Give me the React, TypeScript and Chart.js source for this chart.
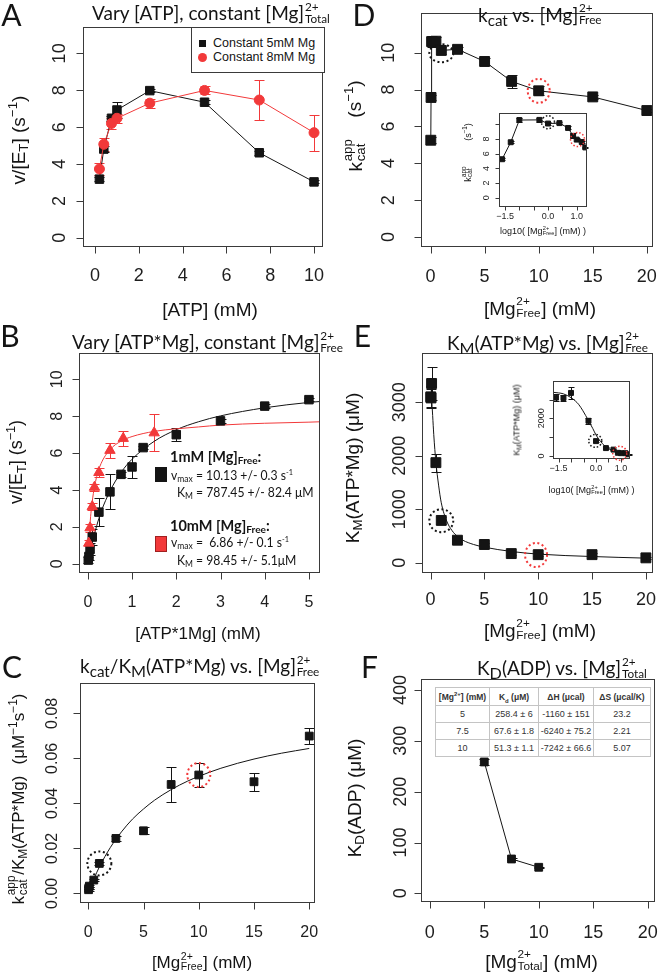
import React, { useEffect, useRef } from 'react';
import { Chart, registerables } from 'chart.js';
Chart.register(...registerables);

// ---------------- data ----------------
// Panel A: vary [ATP], constant total Mg
const aAtpMM = [0.2, 0.4, 0.75, 1, 2.5, 5, 7.5, 10];
const aRate5mM = [3.18, 4.81, 6.48, 6.93, 7.98, 7.35, 4.61, 3.03];
const aErr5mM = [0.12, 0.15, 0.15, 0.45, 0.1, 0.1, 0.1, 0.08];
const aRate8mM = [3.73, 5.07, 6.2, 6.48, 7.3, 7.99, 7.47, 5.7];
const aErr8mM = [0.35, 0.35, 0.3, 0.25, 0.25, 0.22, 1.1, 0.98];

// Panel B: vary [ATP*Mg], constant free Mg
const bAtpMg1 = [0.01, 0.025, 0.05, 0.1, 0.25, 0.5, 0.75, 1, 1.25, 2, 3, 4, 5];
const bRate1 = [0.2, 0.4, 0.8, 1.45, 2.8, 3.9, 4.85, 5.25, 6.3, 7.0, 7.75, 8.55, 8.9];
const bErr1 = [0.15, 0.2, 0.3, 0.45, 0.75, 0.95, 0.15, 0.6, 0.1, 0.35, 0.1, 0.1, 0.1];
const bAtpMg10 = [0.02, 0.05, 0.1, 0.15, 0.25, 0.5, 0.8, 1.5];
const bRate10 = [1.12, 1.95, 3.1, 4.15, 4.95, 6.15, 6.8, 7.1];
const bErr10 = [0.15, 0.2, 0.2, 0.2, 0.25, 0.4, 0.4, 1.0];
const bFitAtpMg = [0, 0.05, 0.1, 0.2, 0.3, 0.5, 0.75, 1, 1.5, 2, 2.5, 3, 4, 5, 5.25];
const bFit1 = [0, 0.6, 1.14, 2.06, 2.82, 3.94, 4.95, 5.67, 6.64, 7.27, 7.7, 8.02, 8.46, 8.75, 8.8];
const bFit10 = [0, 2.17, 3.39, 4.73, 5.44, 6.19, 6.65, 6.9, 7.18, 7.32, 7.42, 7.52, 7.62, 7.68, 7.7];

// Panels C, D, E: free Mg series
const mgFreeMM = [0.025, 0.05, 0.1, 0.5, 1, 2.5, 5, 7.5, 10, 15, 20];
const kcatApp = [5.25, 7.57, 10.6, 10.62, 10.12, 10.18, 9.52, 8.44, 7.93, 7.6, 6.86];
const kcatErr = [0.15, 0.15, 0.3, 0.25, 0.2, 0.1, 0.2, 0.35, 0.25, 0.12, 0.1];
const kmAtpMg = [3100, 3080, 3350, 1870, 790, 420, 340, 170, 150, 150, 90];
const kmErr = [200, 170, 300, 170, 60, 40, 35, 30, 25, 25, 20];
const kcatOverKm = [0.0016, 0.0025, 0.0032, 0.0059, 0.0133, 0.0244, 0.0278, 0.0484, 0.0526, 0.0496, 0.0699];
const kcatOverKmErr = [0.0004, 0.0005, 0.0005, 0.0006, 0.0008, 0.0012, 0.0015, 0.0078, 0.0055, 0.0039, 0.0037];
const cFitMg = [0, 0.5, 1, 2, 3, 4, 5, 6, 7.5, 9, 10, 12, 15, 17.5, 20];
const cFit = [0, 0.0063, 0.0117, 0.0204, 0.0273, 0.033, 0.0375, 0.0414, 0.0461, 0.0499, 0.052, 0.0556, 0.0597, 0.0623, 0.0644];
const eFitMg = [0, 0.02, 0.05, 0.1, 0.15, 0.2, 0.3, 0.5, 0.75, 1, 1.5, 2, 2.5, 3, 4, 5, 7.5, 10, 15, 20];
const eFitKm = [3450, 3380, 3300, 3100, 2920, 2750, 2400, 1880, 1450, 1120, 780, 600, 490, 420, 340, 290, 210, 160, 115, 85];

// Panel F
const fMgTotal = [5, 7.5, 10];
const fKdADP = [258.4, 67.6, 51.3];
const fKdErr = [6, 1.8, 1.1];
const tableRows = [
  ['5', '258.4 ± 6', '-1160 ± 151', '23.2'],
  ['7.5', '67.6 ± 1.8', '-6240 ± 75.2', '2.21'],
  ['10', '51.3 ± 1.1', '-7242 ± 66.6', '5.07'],
];

// ticks
const t0to10 = [0, 2, 4, 6, 8, 10];
const t0to5 = [0, 1, 2, 3, 4, 5];
const t0to20 = [0, 5, 10, 15, 20];
const tC = [0, 0.02, 0.04, 0.06, 0.08];
const tCLab = ['0.00', '0.02', '0.04', '0.06', '0.08'];
const tE = [0, 1000, 2000, 3000];
const tF = [0, 100, 200, 300, 400];
const tLog = [-1.5, -1, -0.5, 0, 0.5, 1];
const tLogLab = ['\u22121.5', '', '', '0.0', '', '1.0'];
const tInsetD = [0, 2, 4, 6, 8, 10];
const tInsetDLab = ['0', '2', '4', '6', '8', ''];
const tInsetELab = ['0', '', '2000', ''];

// ---------------- styling ----------------
const BLK = '#141414';
const RED = '#f2393a';
const SANS = '"Liberation Sans", Arial, Helvetica, sans-serif';
const HUM = 'Lato, "Open Sans", sans-serif';

const pts = (xs: number[], ys: number[]) => xs.map((x, i) => ({ x, y: ys[i] }));
const logPts = (xs: number[], ys: number[]) =>
  xs.map((x, i) => ({ x, y: ys[i] })).filter(p => p.x > 0).map(p => ({ x: Math.log10(p.x), y: p.y }));

type Ring = { x: number; y: number; rx: number; ry: number; color: string; lw: number };
type PanelCfg = {
  rect: [number, number, number, number];
  box: [number, number, number, number];
  xRange: [number, number];
  yRange: [number, number];
  xTicks: number[]; xLabels: string[];
  yTicks: number[]; yLabels: string[];
  font: number; tickLen: number; xLabOff: number; yLabOff: number; cap: number;
  rings?: Ring[];
  datasets: any[];
};

function rPlugin(cfg: PanelCfg) {
  return {
    id: 'rstyle',
    beforeDatasetsDraw(chart: any) {
      const ctx = chart.ctx;
      const xs = chart.scales.x, ys = chart.scales.y;
      chart.data.datasets.forEach((ds: any) => {
        if (!ds.errors) return;
        ctx.save();
        ctx.strokeStyle = ds.errColor || BLK;
        ctx.lineWidth = 1;
        ctx.beginPath();
        ds.data.forEach((p: any, j: number) => {
          const e = ds.errors[j];
          if (!e) return;
          const px = Math.round(xs.getPixelForValue(p.x)) + 0.5;
          const y1 = Math.round(ys.getPixelForValue(p.y - e)) + 0.5;
          const y2 = Math.round(ys.getPixelForValue(p.y + e)) + 0.5;
          const c = cfg.cap;
          ctx.moveTo(px, y1); ctx.lineTo(px, y2);
          ctx.moveTo(px - c, y1); ctx.lineTo(px + c, y1);
          ctx.moveTo(px - c, y2); ctx.lineTo(px + c, y2);
        });
        ctx.stroke();
        ctx.restore();
      });
    },
    afterDraw(chart: any) {
      const ctx = chart.ctx;
      const { left, top, right, bottom } = chart.chartArea;
      const xs = chart.scales.x, ys = chart.scales.y;
      ctx.save();
      ctx.strokeStyle = '#3a3a3a';
      ctx.lineWidth = 1;
      const L = Math.round(left) + 0.5, T = Math.round(top) + 0.5;
      const R = Math.round(right) - 0.5, B = Math.round(bottom) - 0.5;
      ctx.strokeRect(L, T, R - L, B - T);
      ctx.beginPath();
      cfg.xTicks.forEach(v => {
        const px = Math.round(xs.getPixelForValue(v)) + 0.5;
        ctx.moveTo(px, B); ctx.lineTo(px, B + cfg.tickLen);
      });
      cfg.yTicks.forEach(v => {
        const py = Math.round(ys.getPixelForValue(v)) + 0.5;
        ctx.moveTo(L, py); ctx.lineTo(L - cfg.tickLen, py);
      });
      ctx.stroke();
      ctx.fillStyle = '#1e1e1e';
      ctx.font = `${cfg.font}px ${SANS}`;
      ctx.textAlign = 'center';
      ctx.textBaseline = 'middle';
      cfg.xTicks.forEach((v, i) => {
        const lab = cfg.xLabels[i];
        if (lab) ctx.fillText(lab, xs.getPixelForValue(v), bottom + cfg.xLabOff);
      });
      cfg.yTicks.forEach((v, i) => {
        const lab = cfg.yLabels[i];
        if (!lab) return;
        ctx.save();
        ctx.translate(left - cfg.yLabOff, ys.getPixelForValue(v));
        ctx.rotate(-Math.PI / 2);
        ctx.fillText(lab, 0, 0);
        ctx.restore();
      });
      (cfg.rings || []).forEach(r => {
        ctx.save();
        ctx.strokeStyle = r.color;
        ctx.lineWidth = r.lw;
        ctx.setLineDash([r.lw, r.lw * 1.3]);
        ctx.beginPath();
        ctx.ellipse(xs.getPixelForValue(r.x), ys.getPixelForValue(r.y), r.rx, r.ry, 0, 0, Math.PI * 2);
        ctx.stroke();
        ctx.restore();
      });
      ctx.restore();
    },
  };
}

function Panel({ cfg }: { cfg: PanelCfg }) {
  const ref = useRef<HTMLCanvasElement>(null);
  useEffect(() => {
    const [L, T, W, H] = cfg.rect;
    const [bl, bt, br, bb] = cfg.box;
    const chart = new Chart(ref.current as HTMLCanvasElement, {
      type: 'scatter',
      data: { datasets: cfg.datasets },
      options: {
        responsive: false,
        animation: false,
        devicePixelRatio: 1,
        events: [],
        layout: { padding: { left: bl - L, top: bt - T, right: L + W - br, bottom: T + H - bb } },
        scales: {
          x: { type: 'linear', min: cfg.xRange[0], max: cfg.xRange[1], display: false },
          y: { type: 'linear', min: cfg.yRange[0], max: cfg.yRange[1], display: false },
        },
        plugins: { legend: { display: false }, tooltip: { enabled: false } },
      } as any,
      plugins: [rPlugin(cfg)],
    });
    return () => chart.destroy();
  }, [cfg]);
  const [L, T, W, H] = cfg.rect;
  return <canvas ref={ref} width={W} height={H} style={{ position: 'absolute', left: L, top: T, width: W, height: H }} />;
}

const sq = (r: number) => ({ pointStyle: 'rect', pointRadius: r, pointBackgroundColor: BLK, pointBorderColor: BLK, pointBorderWidth: 1 });
const lineDs = (color: string) => ({ showLine: true, borderColor: color, borderWidth: 1 });
const curve = (data: any[], color: string) => ({
  data, showLine: true, borderColor: color, borderWidth: 1, pointRadius: 0, cubicInterpolationMode: 'monotone',
});

const aCfg: PanelCfg = {
  rect: [0, 0, 330, 320], box: [83, 27, 324, 247],
  xRange: [-0.55, 10.41], yRange: [-0.5, 11.43],
  xTicks: t0to10, xLabels: t0to10.map(String), yTicks: t0to10, yLabels: t0to10.map(String),
  font: 18, tickLen: 7, xLabOff: 29, yLabOff: 23, cap: 5,
  datasets: [
    { data: pts(aAtpMM, aRate8mM), errors: aErr8mM, errColor: RED, ...lineDs(RED), pointStyle: 'circle', pointRadius: 5, pointBackgroundColor: RED, pointBorderColor: RED },
    { data: pts(aAtpMM, aRate5mM), errors: aErr5mM, ...lineDs(BLK), ...sq(6) },
  ],
};

const bCfg: PanelCfg = {
  rect: [0, 320, 330, 330], box: [79, 353, 320, 573],
  xRange: [-0.2, 5.25], yRange: [-0.5, 11.43],
  xTicks: t0to5, xLabels: t0to5.map(String), yTicks: t0to10, yLabels: t0to10.map(String),
  font: 16, tickLen: 7, xLabOff: 30, yLabOff: 21, cap: 5,
  datasets: [
    { data: pts(bAtpMg10, bRate10), errors: bErr10, errColor: RED, pointStyle: 'triangle', pointRadius: 6, pointBackgroundColor: RED, pointBorderColor: RED },
    { data: pts(bAtpMg1, bRate1), errors: bErr1, ...sq(6) },
    curve(pts(bFitAtpMg, bFit10), RED),
    curve(pts(bFitAtpMg, bFit1), BLK),
  ],
};

const cCfg: PanelCfg = {
  rect: [0, 650, 330, 325], box: [80, 683, 315, 903],
  xRange: [-0.75, 20.52], yRange: [-0.0043, 0.0935],
  xTicks: t0to20, xLabels: t0to20.map(String), yTicks: tC, yLabels: tCLab,
  font: 16, tickLen: 7, xLabOff: 30, yLabOff: 27, cap: 5,
  rings: [
    { x: 1, y: 0.0133, rx: 12, ry: 12, color: BLK, lw: 2 },
    { x: 10, y: 0.0526, rx: 11.5, ry: 12, color: RED, lw: 2 },
  ],
  datasets: [
    { data: pts(mgFreeMM, kcatOverKm), errors: kcatOverKmErr, ...sq(5.5) },
    curve(pts(cFitMg, cFit), BLK),
  ],
};

const dCfg: PanelCfg = {
  rect: [330, 0, 331, 320], box: [421, 13, 658, 247],
  xRange: [-0.88, 20.57], yRange: [-0.54, 12.15],
  xTicks: t0to20, xLabels: t0to20.map(String), yTicks: t0to10, yLabels: t0to10.map(String),
  font: 18, tickLen: 7, xLabOff: 30, yLabOff: 32, cap: 5,
  rings: [
    { x: 1, y: 9.97, rx: 12, ry: 9, color: BLK, lw: 2 },
    { x: 10, y: 7.93, rx: 11, ry: 12, color: RED, lw: 2 },
  ],
  datasets: [
    { data: pts(mgFreeMM, kcatApp), errors: kcatErr, ...lineDs(BLK), ...sq(7) },
  ],
};

const dInsetCfg: PanelCfg = {
  rect: [465, 100, 130, 140], box: [499, 113, 587, 207],
  xRange: [-1.71, 1.36], yRange: [-1.27, 11.56],
  xTicks: tLog, xLabels: tLogLab, yTicks: tInsetD, yLabels: tInsetDLab,
  font: 9, tickLen: 4, xLabOff: 10, yLabOff: 12, cap: 3,
  rings: [
    { x: 0, y: 10.3, rx: 6.5, ry: 6.5, color: BLK, lw: 1.5 },
    { x: 1.03, y: 7.95, rx: 7, ry: 7, color: RED, lw: 1.5 },
  ],
  datasets: [
    { data: logPts(mgFreeMM, kcatApp), errors: kcatErr, ...lineDs(BLK), ...sq(3.5) },
  ],
};

const eCfg: PanelCfg = {
  rect: [330, 320, 331, 330], box: [422, 353, 658, 573],
  xRange: [-0.79, 20.66], yRange: [-193, 3920],
  xTicks: t0to20, xLabels: t0to20.map(String), yTicks: tE, yLabels: tE.map(String),
  font: 18, tickLen: 7, xLabOff: 27, yLabOff: 22, cap: 5,
  rings: [
    { x: 1, y: 785, rx: 12, ry: 11.5, color: BLK, lw: 2 },
    { x: 9.8, y: 144, rx: 11, ry: 12, color: RED, lw: 2 },
  ],
  datasets: [
    { data: pts(mgFreeMM, kmAtpMg), errors: kmErr, ...sq(7) },
    curve(pts(eFitMg, eFitKm), BLK),
  ],
};

const eInsetCfg: PanelCfg = {
  rect: [520, 372, 120, 130], box: [553, 381, 630, 459],
  xRange: [-1.72, 1.36], yRange: [-159, 3983],
  xTicks: tLog, xLabels: tLogLab, yTicks: tE, yLabels: tInsetELab,
  font: 9, tickLen: 4, xLabOff: 10, yLabOff: 11, cap: 3,
  rings: [
    { x: -0.03, y: 805, rx: 6.5, ry: 6.5, color: BLK, lw: 1.5 },
    { x: 0.95, y: 145, rx: 7, ry: 7, color: RED, lw: 1.5 },
  ],
  datasets: [
    { data: logPts(mgFreeMM, kmAtpMg), errors: kmErr, ...sq(3.5) },
    curve(logPts(eFitMg, eFitKm), BLK),
  ],
};

const fCfg: PanelCfg = {
  rect: [330, 650, 331, 325], box: [421, 679, 658, 902],
  xRange: [-0.81, 20.63], yRange: [-17, 421.6],
  xTicks: t0to20, xLabels: t0to20.map(String), yTicks: tF, yLabels: tF.map(String),
  font: 18, tickLen: 7, xLabOff: 31, yLabOff: 20, cap: 5,
  datasets: [
    { data: pts(fMgTotal, fKdADP), errors: fKdErr, ...lineDs(BLK), ...sq(5.5) },
  ],
};

// ---------------- text helpers ----------------
function Txt(props: { x: number; y: number; size: number; family?: string; left?: boolean; rot?: boolean; weight?: number; color?: string; sx?: number; children: any }) {
  const { x, y, size, family = SANS, left = false, rot = false, weight = 400, color = '#141414', sx = 1, children } = props;
  const tr = (left ? 'translate(0,-50%)' : 'translate(-50%,-50%)') + (rot ? ' rotate(-90deg)' : '') + (sx !== 1 ? ` scaleX(${sx})` : '');
  return (
    <div style={{ position: 'absolute', left: x, top: y, transform: tr, transformOrigin: left ? '0 50%' : '50% 50%', fontSize: size, fontFamily: family, fontWeight: weight, lineHeight: 1, whiteSpace: 'pre', color }}>
      {children}
    </div>
  );
}
function Sub({ children, k = 0.7, dy = '-0.3em' }: { children: any; k?: number; dy?: string }) {
  return <span style={{ fontSize: `${k}em`, verticalAlign: dy, lineHeight: 0 }}>{children}</span>;
}
function Sup({ children, k = 0.7 }: { children: any; k?: number }) {
  return <span style={{ fontSize: `${k}em`, verticalAlign: '0.55em', lineHeight: 0 }}>{children}</span>;
}
function Stk({ sup, sub, k = 0.62 }: { sup: string; sub: string; k?: number }) {
  return (
    <span style={{ display: 'inline-block', fontSize: `${k}em`, lineHeight: 1, verticalAlign: '-0.22em', margin: '-1em 0.05em -1em 0.06em', textAlign: 'left' }}>
      <span style={{ display: 'block' }}>{sup}</span>
      <span style={{ display: 'block' }}>{sub}</span>
    </span>
  );
}

const cellStyle: any = { border: '1px solid #c4c4c4', padding: 0, textAlign: 'center', whiteSpace: 'nowrap' };
const TS = 19; // panel title size
const AN = 14; // annotation size in B
const ANX = 0.87;

export default function App() {
  return (
    <div style={{ position: 'absolute', left: 0, top: 0, width: 661, height: 975, background: '#fff', overflow: 'hidden' }}>
      <Panel cfg={aCfg} />
      <Panel cfg={bCfg} />
      <Panel cfg={cCfg} />
      <Panel cfg={dCfg} />
      <Panel cfg={eCfg} />
      <Panel cfg={fCfg} />
      <Panel cfg={dInsetCfg} />
      <Panel cfg={eInsetCfg} />

      {/* panel letters */}
      <Txt x={11.5} y={14} size={30} family={HUM}>A</Txt>
      <Txt x={364} y={14} size={30} family={HUM}>D</Txt>
      <Txt x={10} y={335} size={30} family={HUM}>B</Txt>
      <Txt x={362.5} y={335} size={30} family={HUM}>E</Txt>
      <Txt x={12} y={666} size={30} family={HUM}>C</Txt>
      <Txt x={369.5} y={666} size={30} family={HUM}>F</Txt>

      {/* titles */}
      <Txt x={92} y={12} size={TS} family={HUM} left>Vary [ATP], constant [Mg]<Stk sup="2+" sub="Total" /></Txt>
      <Txt x={72} y={341} size={TS} family={HUM} left>Vary [ATP*Mg], constant [Mg]<Stk sup="2+" sub="Free" /></Txt>
      <Txt x={80} y={665} size={TS} family={HUM} left>k<Sub k={0.8}>cat</Sub>/K<Sub k={0.85}>M</Sub>(ATP*Mg) vs. [Mg]<Stk sup="2+" sub="Free" /></Txt>
      <Txt x={478} y={13.5} size={TS} family={HUM} left>k<Sub k={0.8}>cat</Sub> vs. [Mg]<Stk sup="2+" sub="Free" /></Txt>
      <Txt x={447} y={341.5} size={TS} family={HUM} left>K<Sub k={0.85}>M</Sub>(ATP*Mg) vs. [Mg]<Stk sup="2+" sub="Free" /></Txt>
      <Txt x={477} y={667} size={TS} family={HUM} left>K<Sub k={0.85}>D</Sub>(ADP) vs. [Mg]<Stk sup="2+" sub="Total" /></Txt>

      {/* x axis titles */}
      <Txt x={210} y={309} size={19}>[ATP] (mM)</Txt>
      <Txt x={198} y={633} size={17}>[ATP*1Mg] (mM)</Txt>
      <Txt x={202} y={962} size={17}>[Mg<Stk sup="2+" sub="Free" />] (mM)</Txt>
      <Txt x={540} y={307.5} size={19}>[Mg<Stk sup="2+" sub="Free" />] (mM)</Txt>
      <Txt x={540} y={629.5} size={19}>[Mg<Stk sup="2+" sub="Free" />] (mM)</Txt>
      <Txt x={541.5} y={960.5} size={19}>[Mg<Stk sup="2+" sub="Total" />] (mM)</Txt>

      {/* y axis titles */}
      <Txt x={17.5} y={140} size={19} rot>v/[E<Sub>T</Sub>] (s<Sup>{'\u22121'}</Sup>)</Txt>
      <Txt x={16} y={462} size={18} rot>v/[E<Sub>T</Sub>] (s<Sup>{'\u22121'}</Sup>)</Txt>
      <Txt x={18} y={840} size={17} rot>k<Stk sup="app" sub="cat" k={0.7} />/K<Sub>M</Sub>(ATP*Mg)</Txt>
      <Txt x={18} y={729} size={17} rot>(μM<Sup>{'\u22121'}</Sup>s<Sup>{'\u22121'}</Sup>)</Txt>
      <Txt x={355} y={155} size={19} rot>k<Stk sup="app" sub="cat" k={0.7} /></Txt>
      <Txt x={354} y={98.5} size={19} rot>(s<Sup>{'\u22121'}</Sup>)</Txt>
      <Txt x={352} y={468} size={19} rot>K<Sub>M</Sub>(ATP*Mg) (μM)</Txt>
      <Txt x={354} y={798} size={19} rot>K<Sub>D</Sub>(ADP) (μM)</Txt>

      {/* inset titles */}
      <Txt x={468} y={174} size={9} rot>k<Stk sup="app" sub="cat" k={0.7} /></Txt>
      <Txt x={468} y={131.5} size={9} rot>(s<Sup>{'\u22121'}</Sup>)</Txt>
      <Txt x={543} y={231} size={9}>log10( [Mg<Stk sup="2+" sub="Free" />] (mM) )</Txt>
      <Txt x={517} y={420} size={9} rot>K<Sub>M</Sub>(ATP*Mg) (μM)</Txt>
      <Txt x={591.5} y={490} size={9}>log10( [Mg<Stk sup="2+" sub="Free" />] (mM) )</Txt>

      {/* legend A */}
      <div style={{ position: 'absolute', left: 191, top: 27, width: 132, height: 44, border: '1px solid #3a3a3a', background: '#fff' }} />
      <div style={{ position: 'absolute', left: 198.5, top: 39.5, width: 7, height: 7, background: BLK }} />
      <div style={{ position: 'absolute', left: 197.5, top: 52.5, width: 9, height: 9, borderRadius: '50%', background: RED }} />
      <Txt x={213} y={43} size={12.5} left>Constant 5mM Mg</Txt>
      <Txt x={213} y={57} size={12.5} left>Constant 8mM Mg</Txt>

      {/* B annotations */}
      <Txt x={170} y={457} size={14.5} family={HUM} weight={700} left>1mM [Mg]<Sub k={0.7} dy="-0.2em">Free</Sub>:</Txt>
      <div style={{ position: 'absolute', left: 155, top: 467, width: 12, height: 15, background: BLK }} />
      <Txt x={171} y={475} size={AN} family={HUM} sx={ANX} left>v<Sub k={0.7} dy="-0.2em">max</Sub> = 10.13 +/- 0.3 s<Sup k={0.6}>-1</Sup></Txt>
      <Txt x={177} y={492} size={AN} family={HUM} sx={ANX} left>K<Sub k={0.7} dy="-0.2em">M</Sub> = 787.45 +/- 82.4 μM</Txt>
      <Txt x={170} y={526} size={14.5} family={HUM} weight={700} left>10mM [Mg]<Sub k={0.7} dy="-0.2em">Free</Sub>:</Txt>
      <div style={{ position: 'absolute', left: 155, top: 536, width: 12, height: 16, background: RED, boxSizing: 'border-box', border: '1px solid #a02020' }} />
      <Txt x={171} y={542} size={AN} family={HUM} sx={ANX} left>v<Sub k={0.7} dy="-0.2em">max</Sub> =  6.86 +/- 0.1 s<Sup k={0.6}>-1</Sup></Txt>
      <Txt x={177} y={560} size={AN} family={HUM} sx={ANX} left>K<Sub k={0.7} dy="-0.2em">M</Sub> = 98.45 +/- 5.1μM</Txt>

      {/* F table */}
      <table style={{ position: 'absolute', left: 435, top: 687, width: 215, height: 69, borderCollapse: 'collapse', background: '#fff', fontFamily: SANS, fontSize: 9, color: '#333', tableLayout: 'fixed' }}>
        <colgroup>
          <col style={{ width: 54 }} /><col style={{ width: 49 }} /><col style={{ width: 55 }} /><col style={{ width: 57 }} />
        </colgroup>
        <tbody>
          <tr style={{ height: 18, fontWeight: 700, fontSize: 8.5 }}>
            <td style={cellStyle}>[Mg<sup style={{ fontSize: '0.7em', lineHeight: 0 }}>2+</sup>] (mM)</td>
            <td style={cellStyle}>K<sub style={{ fontSize: '0.7em', lineHeight: 0 }}>d</sub> (μM)</td>
            <td style={cellStyle}>ΔH (μcal)</td>
            <td style={cellStyle}>ΔS (μcal/K)</td>
          </tr>
          {tableRows.map((r, i) => (
            <tr key={i} style={{ height: 17 }}>
              {r.map((c, j) => <td key={j} style={cellStyle}>{c}</td>)}
            </tr>
          ))}
        </tbody>
      </table>
    </div>
  );
}
